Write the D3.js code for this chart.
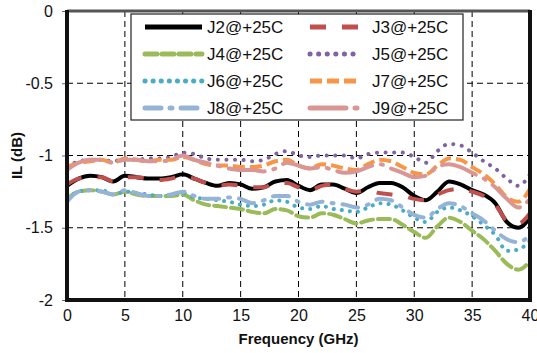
<!DOCTYPE html>
<html>
<head>
<meta charset="utf-8">
<script src="https://cdn.jsdelivr.net/npm/d3@7"></script>
<style>
  body { margin: 0; background: #fff; }
  svg { font-family: "Liberation Sans", Arial, sans-serif; }
</style>
</head>
<body>
<svg id="chart" width="537" height="353"></svg>
<script>
// frequency points (GHz)
var freq = [0,1,2,3,4,5,6,7,8,9,10,11,12,13,14,15,16,17,18,19,20,21,22,23,24,25,26,27,28,29,30,31,32,33,34,35,36,37,38,39,40];

// insertion loss per junction (dB)
var j2 = [-1.21,-1.16,-1.14,-1.15,-1.18,-1.14,-1.15,-1.16,-1.16,-1.15,-1.13,-1.16,-1.19,-1.21,-1.19,-1.2,-1.23,-1.22,-1.18,-1.17,-1.21,-1.24,-1.2,-1.2,-1.23,-1.26,-1.22,-1.19,-1.19,-1.22,-1.28,-1.31,-1.25,-1.18,-1.2,-1.24,-1.27,-1.33,-1.46,-1.5,-1.43];
var j3 = [-1.2,-1.16,-1.15,-1.15,-1.18,-1.15,-1.15,-1.16,-1.17,-1.16,-1.14,-1.16,-1.19,-1.21,-1.2,-1.21,-1.22,-1.22,-1.19,-1.19,-1.22,-1.24,-1.21,-1.2,-1.23,-1.25,-1.24,-1.26,-1.27,-1.28,-1.3,-1.31,-1.27,-1.24,-1.23,-1.25,-1.28,-1.34,-1.45,-1.47,-1.4];
var j4 = [-1.3,-1.25,-1.24,-1.25,-1.27,-1.25,-1.27,-1.28,-1.28,-1.28,-1.27,-1.31,-1.34,-1.35,-1.36,-1.37,-1.39,-1.4,-1.37,-1.38,-1.42,-1.43,-1.4,-1.41,-1.44,-1.47,-1.45,-1.44,-1.44,-1.48,-1.53,-1.57,-1.49,-1.43,-1.46,-1.52,-1.58,-1.66,-1.75,-1.79,-1.73];
var j5 = [-1.08,-1.04,-1.03,-1.03,-1.04,-1.02,-1.03,-1.02,-1.02,-1.01,-0.98,-0.99,-1.02,-1.03,-1.03,-1.03,-1.04,-1.03,-0.99,-0.97,-1.0,-1.01,-1.0,-1.0,-1.0,-1.02,-0.99,-0.98,-0.98,-0.98,-1.01,-1.05,-0.97,-0.92,-0.93,-0.98,-1.04,-1.09,-1.16,-1.21,-1.13];
var j6 = [-1.3,-1.25,-1.24,-1.24,-1.27,-1.25,-1.26,-1.27,-1.28,-1.27,-1.26,-1.29,-1.3,-1.31,-1.32,-1.34,-1.35,-1.34,-1.31,-1.32,-1.36,-1.37,-1.35,-1.37,-1.38,-1.39,-1.36,-1.33,-1.34,-1.38,-1.43,-1.46,-1.39,-1.36,-1.38,-1.42,-1.48,-1.55,-1.66,-1.65,-1.59];
var j7 = [-1.08,-1.05,-1.04,-1.03,-1.05,-1.02,-1.03,-1.04,-1.03,-1.03,-1.01,-1.03,-1.06,-1.07,-1.07,-1.08,-1.08,-1.07,-1.04,-1.03,-1.07,-1.09,-1.06,-1.07,-1.09,-1.1,-1.06,-1.03,-1.04,-1.08,-1.12,-1.13,-1.07,-1.02,-1.03,-1.08,-1.13,-1.2,-1.29,-1.32,-1.23];
var j8 = [-1.32,-1.25,-1.24,-1.25,-1.27,-1.24,-1.26,-1.28,-1.28,-1.27,-1.25,-1.28,-1.3,-1.3,-1.29,-1.3,-1.33,-1.31,-1.28,-1.28,-1.32,-1.34,-1.32,-1.33,-1.34,-1.36,-1.34,-1.3,-1.31,-1.36,-1.41,-1.43,-1.37,-1.33,-1.35,-1.4,-1.45,-1.52,-1.58,-1.6,-1.55];
var j9 = [-1.1,-1.05,-1.03,-1.03,-1.05,-1.03,-1.03,-1.04,-1.04,-1.03,-1.0,-1.03,-1.05,-1.07,-1.09,-1.1,-1.1,-1.11,-1.09,-1.05,-1.07,-1.09,-1.08,-1.1,-1.12,-1.11,-1.08,-1.06,-1.09,-1.12,-1.15,-1.14,-1.08,-1.06,-1.08,-1.12,-1.16,-1.22,-1.3,-1.36,-1.3];

var names = ["J2@+25C","J3@+25C","J4@+25C","J5@+25C","J6@+25C","J7@+25C","J8@+25C","J9@+25C"];
var xTicks = [0,5,10,15,20,25,30,35,40];
var yTicks = [0,-0.5,-1,-1.5,-2];

var series = [
  {name: names[0], values: j2, color: "#000000", dash: null,         cap: "butt"},
  {name: names[1], values: j3, color: "#c0504d", dash: "16,16",      cap: "butt"},
  {name: names[2], values: j4, color: "#9bbb59", dash: "12,5",       cap: "round"},
  {name: names[3], values: j5, color: "#8064a2", dash: "0.1,8.5",    cap: "round"},
  {name: names[4], values: j6, color: "#4bacc6", dash: "0.1,8",      cap: "round"},
  {name: names[5], values: j7, color: "#f79646", dash: "12,5",       cap: "butt"},
  {name: names[6], values: j8, color: "#95b3d7", dash: "16,9,2,9",   cap: "round"},
  {name: names[7], values: j9, color: "#d99694", dash: "36,9,2,9",   cap: "round"}
];

var margin = {left: 67, right: 7, top: 11, bottom: 53};
var svg = d3.select("#chart");
var W = 537, H = 353;
var x = d3.scaleLinear().domain([0, 40]).range([margin.left, W - margin.right]);
var y = d3.scaleLinear().domain([-2, 0]).range([H - margin.bottom, margin.top]);

// grid lines
svg.append("g").selectAll("line.vg")
  .data(xTicks.slice(1, -1)).enter().append("line")
  .attr("x1", function(d){ return x(d); }).attr("x2", function(d){ return x(d); })
  .attr("y1", y(0)).attr("y2", y(-2))
  .attr("stroke", "#000").attr("stroke-width", 1).attr("stroke-dasharray", "6,4");
svg.append("g").selectAll("line.hg")
  .data(yTicks.slice(1, -1)).enter().append("line")
  .attr("x1", x(0)).attr("x2", x(40))
  .attr("y1", function(d){ return y(d); }).attr("y2", function(d){ return y(d); })
  .attr("stroke", "#000").attr("stroke-width", 1).attr("stroke-dasharray", "6,4");

// axes (labels only, frame drawn separately)
var yAxis = svg.append("g").attr("transform", "translate(" + x(0) + ",0)")
  .call(d3.axisLeft(y).tickValues(yTicks).tickSize(5).tickPadding(9).tickFormat(function(d){ return String(d); }));
var xAxis = svg.append("g").attr("transform", "translate(0," + y(-2) + ")")
  .call(d3.axisBottom(x).tickValues(xTicks).tickSize(0).tickPadding(10).tickFormat(function(d){ return String(d); }));
[yAxis, xAxis].forEach(function(a){
  a.select(".domain").remove();
  a.selectAll("text").attr("font-size", 16).attr("fill", "#111").attr("font-family", "Liberation Sans, Arial, sans-serif");
  a.selectAll("line").attr("stroke", "#666");
});

// data lines
var line = d3.line()
  .x(function(d, i){ return x(freq[i]); })
  .y(function(d){ return y(d); })
  .curve(d3.curveMonotoneX);

svg.append("g").selectAll("path")
  .data(series).enter().append("path")
  .attr("d", function(s){ return line(s.values); })
  .attr("fill", "none")
  .attr("stroke", function(s){ return s.color; })
  .attr("stroke-width", 4)
  .attr("stroke-linecap", function(s){ return s.cap; })
  .attr("stroke-linejoin", "round")
  .attr("stroke-dasharray", function(s){ return s.dash; });

// frame
svg.append("line").attr("x1", x(0)).attr("x2", x(40)).attr("y1", y(0)).attr("y2", y(0))
  .attr("stroke", "#555").attr("stroke-width", 3);
svg.append("line").attr("x1", x(0)).attr("x2", x(0)).attr("y1", y(0) - 1).attr("y2", y(-2) + 2)
  .attr("stroke", "#111").attr("stroke-width", 4);
svg.append("line").attr("x1", x(40)).attr("x2", x(40)).attr("y1", y(0) - 1).attr("y2", y(-2) + 2)
  .attr("stroke", "#111").attr("stroke-width", 4);
svg.append("line").attr("x1", x(0)).attr("x2", x(40)).attr("y1", y(-2)).attr("y2", y(-2))
  .attr("stroke", "#111").attr("stroke-width", 4);

// legend
var leg = svg.append("g").attr("transform", "translate(131,14)");
leg.append("rect").attr("width", 332).attr("height", 106)
  .attr("fill", "#fff").attr("stroke", "#222").attr("stroke-width", 1.2);
var item = leg.selectAll("g.item").data(series).enter().append("g")
  .attr("transform", function(s, i){
    var col = i % 2, row = Math.floor(i / 2);
    return "translate(" + (col === 0 ? 14 : 179) + "," + (13 + row * 27) + ")";
  });
item.append("line")
  .attr("x1", 0).attr("x2", function(s, i){ return i % 2 === 0 ? 57 : 50; })
  .attr("y1", 0).attr("y2", 0)
  .attr("stroke", function(s){ return s.color; })
  .attr("stroke-width", 5)
  .attr("stroke-linecap", function(s){ return s.cap; })
  .attr("stroke-dasharray", function(s){ return s.dash; });
item.append("text")
  .attr("x", function(s, i){ return i % 2 === 0 ? 62 : 62; })
  .attr("y", 6)
  .attr("font-size", 17)
  .attr("fill", "#111")
  .text(function(s){ return s.name; });

// axis titles
svg.append("text").attr("x", (x(0) + x(40)) / 2).attr("y", 344)
  .attr("text-anchor", "middle").attr("font-size", 15).attr("font-weight", "bold")
  .attr("fill", "#111").text("Frequency (GHz)");
svg.append("text").attr("transform", "translate(22," + y(-1) + ") rotate(-90)")
  .attr("text-anchor", "middle").attr("font-size", 15).attr("font-weight", "bold")
  .attr("fill", "#111").text("IL (dB)");
</script>
</body>
</html>
